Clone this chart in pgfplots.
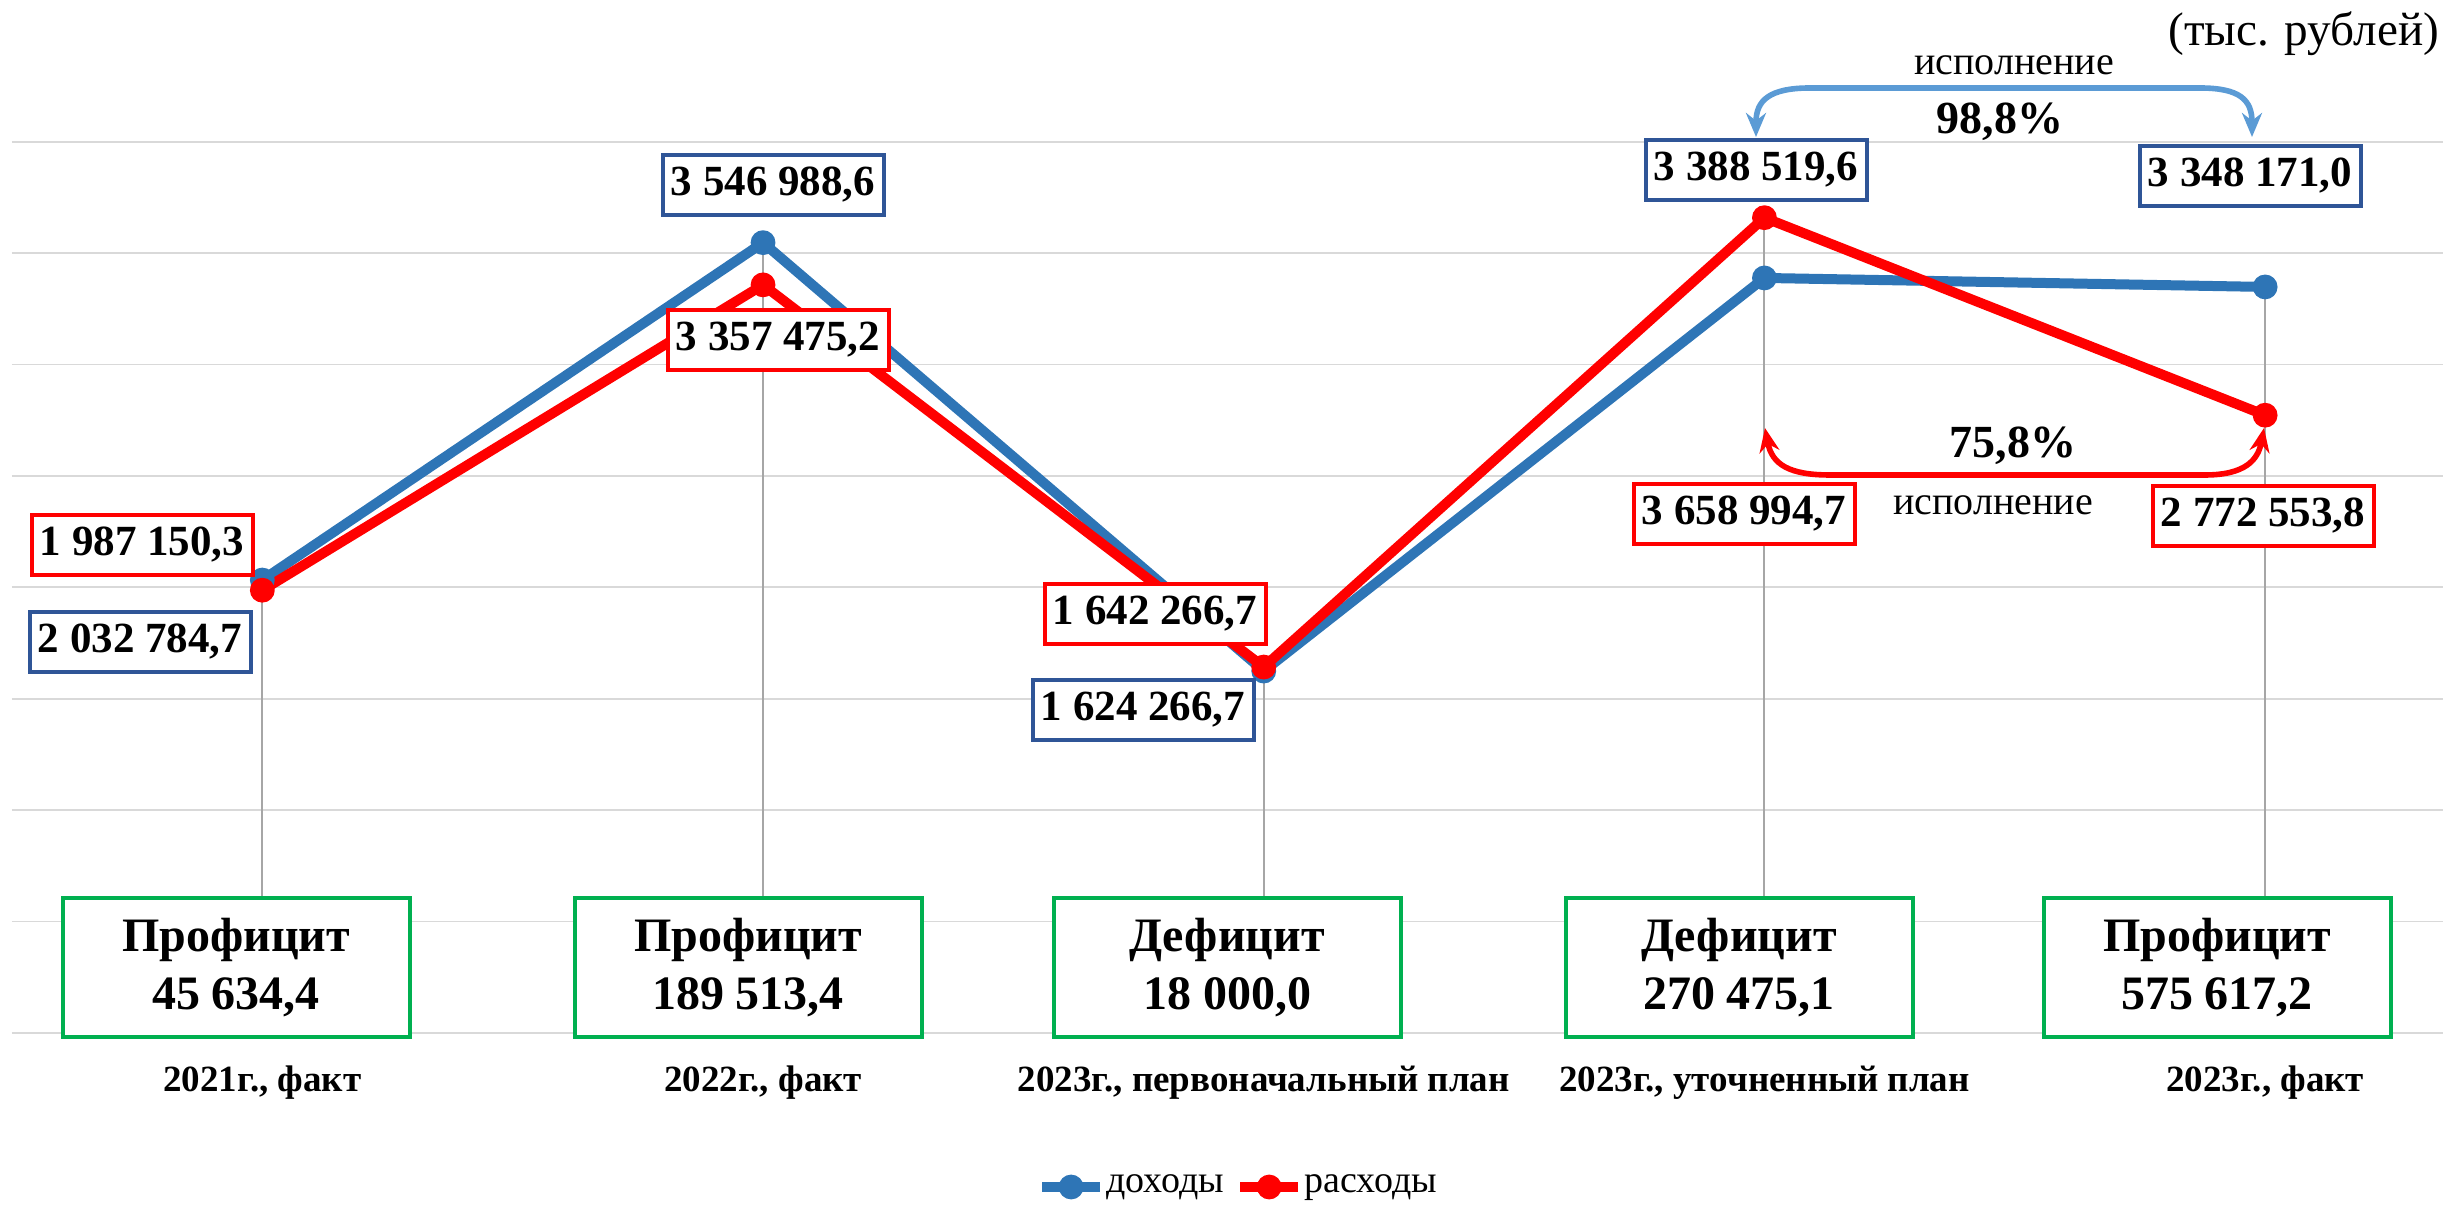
\documentclass[border=0pt]{standalone}
\usepackage{fontspec}
\setmainfont{Liberation Serif}
\usepackage{pgfplots}
\pgfplotsset{compat=1.18}
\usetikzlibrary{arrows.meta}
\definecolor{dblue}{HTML}{2E75B6}
\definecolor{lblue}{HTML}{5B9BD5}
\definecolor{bblue}{HTML}{2F5597}
\definecolor{gboxc}{HTML}{00B050}
\definecolor{gridc}{HTML}{D9D9D9}
\definecolor{dropc}{HTML}{A6A6A6}
\begin{document}
\begin{tikzpicture}
\useasboundingbox (0,0) rectangle (610.75pt,302.25pt);
\begin{axis}[
  at={(3pt,44pt)}, anchor=south west,
  scale only axis, width=607.97pt, height=222.825pt,
  xmin=-0.5, xmax=4.357, ymin=0, ymax=4000000,
  enlargelimits=false, clip=false,
  axis line style={draw=none},
  tick style={draw=none},
  ytick={0,500000,1000000,1500000,2000000,2500000,3000000,3500000,4000000},
  yticklabels={}, scaled y ticks=false,
  ymajorgrids, grid style={gridc, line width=0.45pt},
  xtick={0,1,2,3,4},
  xticklabels={{2021г., факт},{2022г., факт},{2023г., первоначальный план},{2023г., уточненный план},{2023г., факт}},
  xticklabel style={font=\bfseries\fontsize{9.25pt}{11pt}\selectfont, anchor=base, yshift=-14.75pt},
  legend style={at={(0.5040,-0.1728)}, anchor=center, draw=none, fill=none,
    legend columns=2, font=\fontsize{9.5pt}{11pt}\selectfont,
    nodes={inner xsep=0.3pt},
    /tikz/every even column/.append style={column sep=2.5pt}},
  legend cell align=left,
  legend image code/.code={\draw[mark repeat=2,mark phase=2,#1] plot coordinates {(0pt,0pt) (7.25pt,0pt) (14.5pt,0pt)};},
]
\addplot[dblue, line width=2.5pt, line join=round, mark=*, mark size=2.9pt, mark options={line width=0.4pt, fill=dblue, draw=dblue}]
  coordinates {(0,2032784.7) (1,3546988.6) (2,1624266.7) (3,3388519.6) (4,3348171.0)};
\addlegendentry{доходы}
\addplot[red, line width=2.5pt, line join=round, mark=*, mark size=2.9pt, mark options={line width=0.4pt, fill=red, draw=red}]
  coordinates {(0,1987150.3) (1,3357475.2) (2,1642266.7) (3,3658994.7) (4,2772553.8)};
\addlegendentry{расходы}
\addplot[dropc, line width=0.5pt, ycomb, no markers, forget plot]
  coordinates {(0,2032784.7) (1,3546988.6) (2,1642266.7) (3,3658994.7) (4,3348171.0)};
\end{axis}
\begin{scope}[x=0.25pt, y=-0.25pt, shift={(0pt,302.25pt)},
  lbl/.style={line width=1pt, fill=white, minimum width=55.25pt, minimum height=15pt, inner sep=0pt, font=\bfseries\fontsize{10.75pt}{12pt}\selectfont},
  lblb/.style={lbl, draw=bblue},
  lblr/.style={lbl, draw=red},
  gb/.style={draw=gboxc, line width=1pt, fill=white, minimum width=86.75pt, minimum height=34.75pt, inner sep=0pt, align=center, font=\bfseries\fontsize{12pt}{14.5pt}\selectfont}]
\node[lblb] at (140,642) {2 032 784,7};
\node[lblr] at (142,545) {1 987 150,3};
\node[lblb] at (773,185) {3 546 988,6};
\node[lblr] at (778,340) {3 357 475,2};
\node[lblr] at (1155,614) {1 642 266,7};
\node[lblb] at (1143,710) {1 624 266,7};
\node[lblb] at (1756,170) {3 388 519,6};
\node[lblr] at (1744,514) {3 658 994,7};
\node[lblb] at (2250,176) {3 348 171,0};
\node[lblr] at (2263,516) {2 772 553,8};
\node[gb] at (236,967.5) {Профицит\\45 634,4};
\node[gb] at (748,967.5) {Профицит\\189 513,4};
\node[gb] at (1227,967.5) {Дефицит\\18 000,0};
\node[gb] at (1739,967.5) {Дефицит\\270 475,1};
\node[gb] at (2217,967.5) {Профицит\\575 617,2};
\draw[lblue, line width=1.4pt, {Stealth[length=6pt,width=5pt]}-{Stealth[length=6pt,width=5pt]}]
  (1756,137) .. controls (1756,100) and (1770,88) .. (1810,88) -- (2200,88) .. controls (2240,88) and (2252,100) .. (2252,137);
\draw[red, line width=1.4pt, {Stealth[length=6pt,width=5pt]}-{Stealth[length=6pt,width=5pt]}]
  (1765,428) .. controls (1772,465) and (1790,475) .. (1830,475) -- (2205,475) .. controls (2245,475) and (2258,460) .. (2264,428);
\node[font=\fontsize{10pt}{12pt}\selectfont] at (2014,65) {исполнение};
\node[font=\bfseries\fontsize{11.5pt}{13pt}\selectfont] at (2000,122) {98,8\%};
\node[font=\bfseries\fontsize{11.5pt}{13pt}\selectfont] at (2013,446) {75,8\%};
\node[font=\fontsize{10pt}{12pt}\selectfont] at (1993,505) {исполнение};
\node[font=\fontsize{11.8pt}{13pt}\selectfont, anchor=east, inner sep=0pt] at (2440,34) {(тыс. рублей)};
\end{scope}
\end{tikzpicture}
\end{document}
